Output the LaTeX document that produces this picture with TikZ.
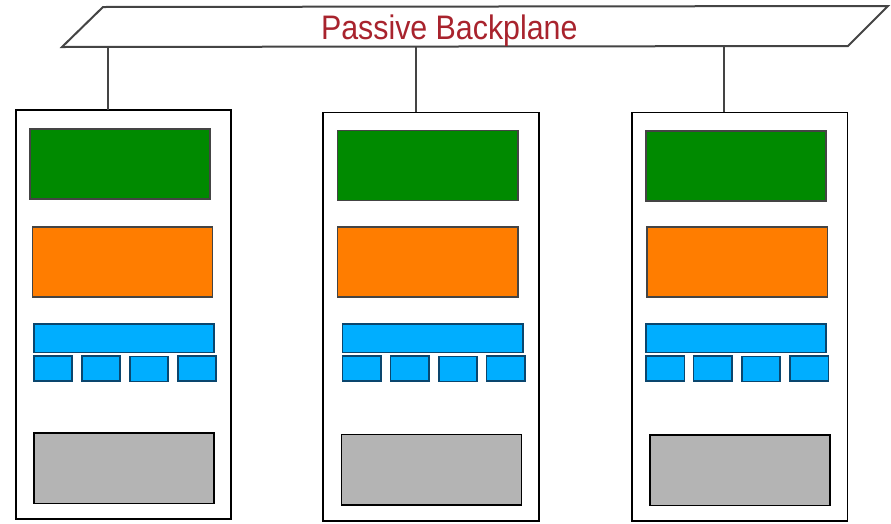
\documentclass[tikz,border=0pt]{standalone}
\usepackage{fontspec}
\setmainfont{Liberation Sans}
\usepackage{graphicx}
\definecolor{bpred}{RGB}{168,35,45}
\definecolor{edgegray}{RGB}{68,68,68}
\definecolor{cardgreen}{RGB}{0,138,0}
\definecolor{cardorange}{RGB}{255,125,0}
\definecolor{cardblue}{RGB}{0,174,255}
\definecolor{blueedge}{RGB}{10,70,110}
\definecolor{cardgray}{RGB}{180,180,180}
\tikzset{
  rbox/.style={rectangle, inner sep=0pt, outer sep=0pt, anchor=north west},
  cardbox/.style={rbox, draw=black, line width=1.6pt, fill=white},
  greenbox/.style={rbox, draw=edgegray, line width=1.6pt, fill=cardgreen},
  orangebox/.style={rbox, draw=edgegray, line width=1.6pt, fill=cardorange},
  bluebox/.style={rbox, draw=blueedge, line width=1.6pt, fill=cardblue},
  graybox/.style={rbox, draw=black, line width=1.6pt, fill=cardgray},
  link/.style={draw=edgegray, line width=2pt},
  plane/.style={draw=edgegray, line width=2pt, line join=miter, fill=white}
}
\newcommand\mkbox[6]{\node[#2, minimum width=#5pt-#3pt, minimum height=#6pt-#4pt] (#1) at (#3,#4) {};}
\begin{document}
\begin{tikzpicture}[x=1pt,y=-1pt]
\useasboundingbox (0,0) rectangle (891,523);
% backplane
\draw[plane] (62,47) -- (103,7) -- (888,6) -- (848,46) -- cycle;
\node[anchor=base, text=bpred, inner sep=0pt, font=\fontsize{34}{40}\selectfont] (bptext) at (449.3,39.3) {\scalebox{0.893}[1]{Passive Backplane}};
\coordinate (bp1) at (108.3,47);
\coordinate (bp2) at (415.7,47);
\coordinate (bp3) at (724,47);
% card 1
\mkbox{card1}{cardbox}{15.7}{110}{231}{519}
\mkbox{g1}{greenbox}{30}{129}{210}{199}
\mkbox{o1}{orangebox}{32.3}{226.7}{212.3}{297}
\mkbox{b1}{bluebox}{33.7}{323.7}{214}{352.3}
\mkbox{s11}{bluebox}{33.7}{355.7}{72}{380.7}
\mkbox{s12}{bluebox}{81.7}{355.7}{120}{380.7}
\mkbox{s13}{bluebox}{129.7}{356.3}{168}{381.5}
\mkbox{s14}{bluebox}{177.7}{355.7}{216}{380.7}
\mkbox{r1}{graybox}{34}{433}{213.7}{503.3}
% card 2
\mkbox{card2}{cardbox}{323}{112.3}{538.7}{520.7}
\mkbox{g2}{greenbox}{337.3}{130.3}{517.7}{200.3}
\mkbox{o2}{orangebox}{337.3}{226.7}{517.7}{297}
\mkbox{b2}{bluebox}{342.3}{323.7}{522.7}{352.3}
\mkbox{s21}{bluebox}{342.3}{355.7}{381}{380.7}
\mkbox{s22}{bluebox}{390.3}{355.7}{428.7}{380.7}
\mkbox{s23}{bluebox}{438.7}{356.3}{477}{381.5}
\mkbox{s24}{bluebox}{486.3}{355.7}{525}{380.7}
\mkbox{r2}{graybox}{341.3}{434.3}{521.3}{505}
% card 3
\mkbox{card3}{cardbox}{631.7}{112.3}{847.3}{521}
\mkbox{g3}{greenbox}{645.7}{130.7}{826}{200.7}
\mkbox{o3}{orangebox}{647}{226.7}{827.3}{297}
\mkbox{b3}{bluebox}{645.7}{323.7}{826}{352.3}
\mkbox{s31}{bluebox}{645.7}{355.7}{684.3}{380.7}
\mkbox{s32}{bluebox}{693.3}{355.7}{732}{380.7}
\mkbox{s33}{bluebox}{741.7}{356.3}{780}{381.5}
\mkbox{s34}{bluebox}{789.7}{355.7}{828.3}{380.7}
\mkbox{r3}{graybox}{649.7}{435}{830}{505.3}
% connectors
\draw[link] (bp1) -- (bp1 |- card1.north);
\draw[link] (bp2) -- (bp2 |- card2.north);
\draw[link] (bp3) -- (bp3 |- card3.north);
\end{tikzpicture}
\end{document}
